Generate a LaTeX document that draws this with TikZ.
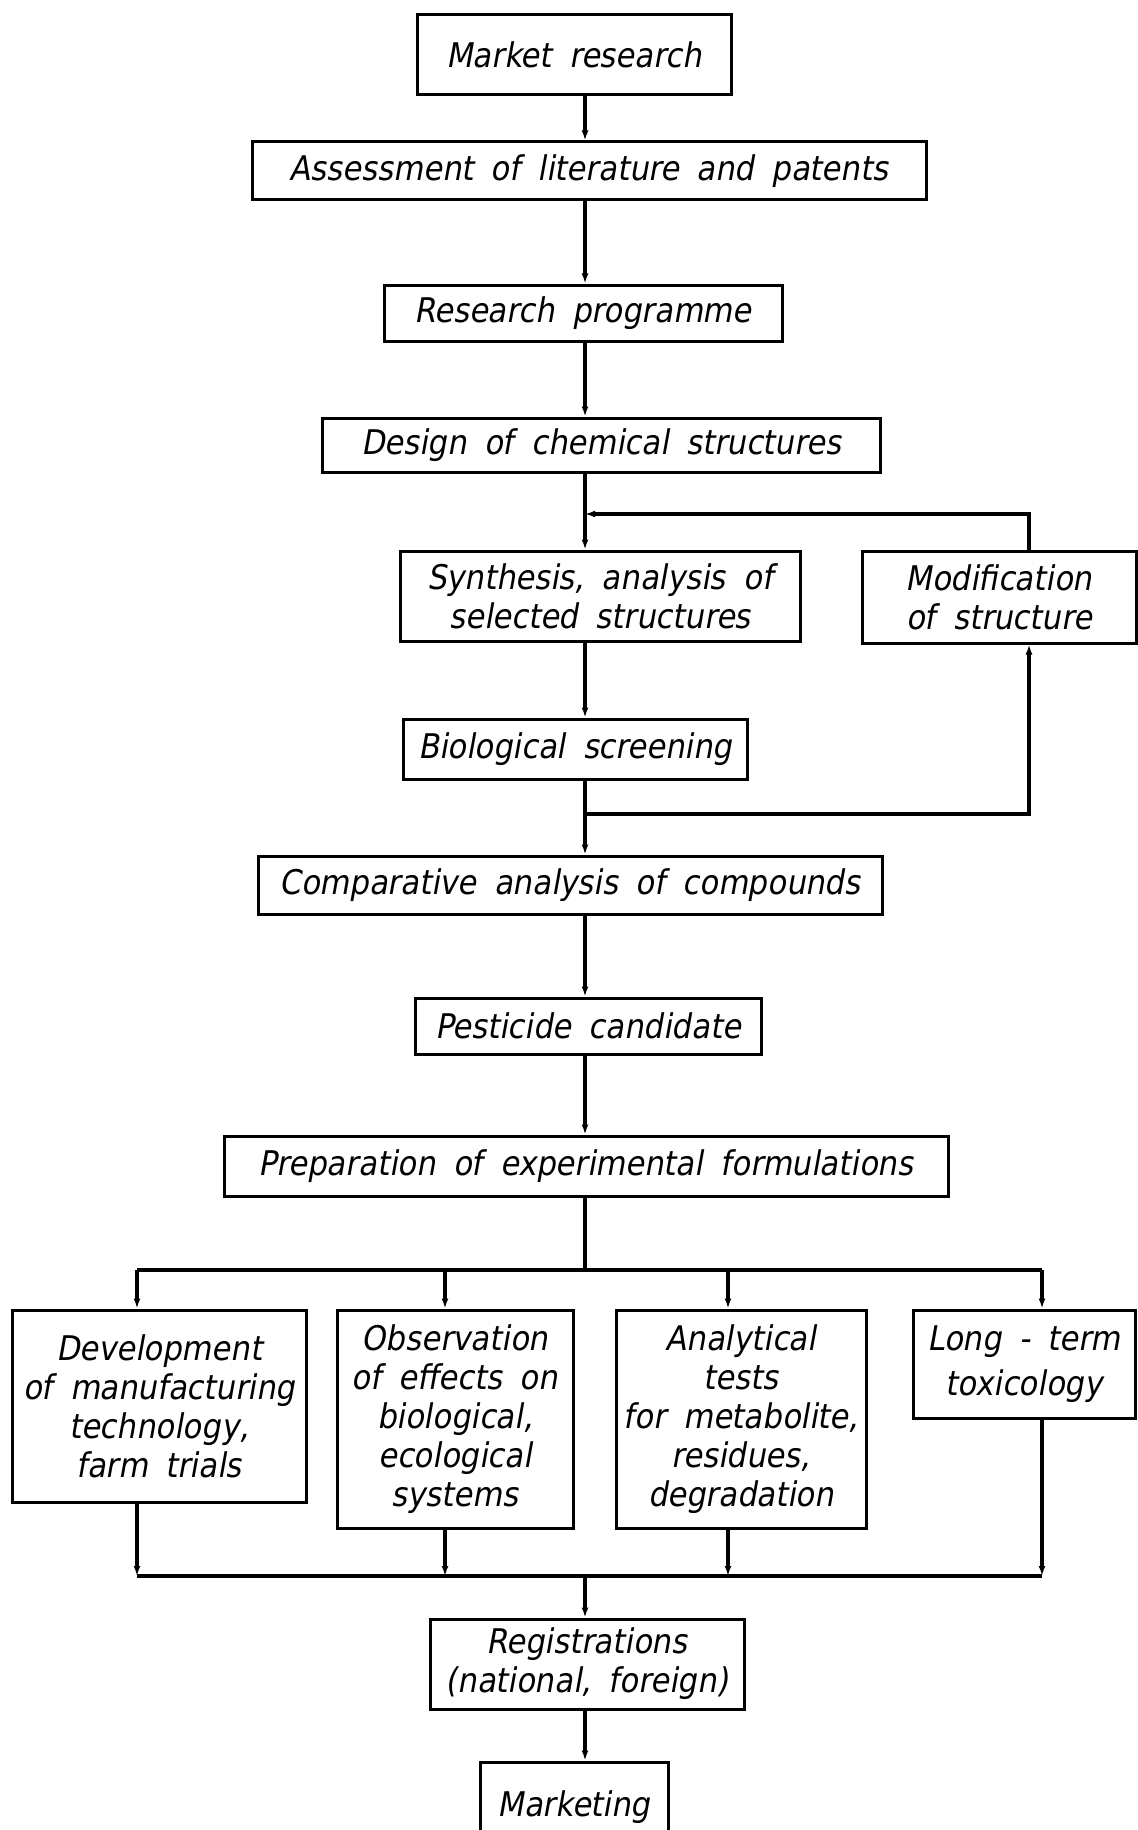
\documentclass[tikz,border=0pt]{standalone}
\usepackage{fontspec}
\setmainfont{DejaVu Sans}[FakeSlant=0.18,FakeStretch=0.9,WordSpace=1.8]
\usepackage{tikz}
\usetikzlibrary{arrows.meta,positioning}

\begin{document}
\begin{tikzpicture}[x=0.5pt,y=-0.5pt,>={Latex[length=5pt,width=3.5pt]},
				line width=1.7pt,
				box/.style={draw,line width=1.5pt,inner sep=1pt,align=center,
					font=\fontsize{17}{19.5}\selectfont}]
				\useasboundingbox (0,0) rectangle (1138,1830);
				% main column
				\node[box,minimum width=157pt,minimum height=40pt] (m_0) at (574,55) {Market research};
				\node[box,minimum width=337pt,minimum height=29pt] (m_1) at (589,171) {Assessment of literature and patents};
				\node[box,minimum width=199pt,minimum height=28pt] (m_2) at (583,313) {Research programme};
				\node[box,minimum width=279pt,minimum height=27pt] (m_3) at (601,445) {Design of chemical structures};
				\node[box,minimum width=200pt,minimum height=45pt] (m_4) at (600,596) {Synthesis, analysis of\\selected structures};
				\node[box,minimum width=137pt,minimum height=46pt] (m_mod) at (999,597) {Modification\\of structure};
				\node[box,minimum width=172pt,minimum height=30pt] (m_5) at (575,749) {Biological screening};
				\node[box,minimum width=312pt,minimum height=29pt] (m_6) at (570,885) {Comparative analysis of compounds};
				\node[box,minimum width=173pt,minimum height=28pt] (m_7) at (588,1026) {Pesticide candidate};
				\node[box,minimum width=362pt,minimum height=30pt] (m_8) at (586,1166) {Preparation of experimental formulations};
				% four parallel tasks
				\node[box,minimum width=147pt,minimum height=96pt] (t_1) at (159,1406) {Development\\of manufacturing\\technology,\\farm trials};
				\node[box,minimum width=118pt,minimum height=109pt] (t_2) at (455,1419) {Observation\\of effects on\\biological,\\ecological\\systems};
				\node[box,minimum width=125pt,minimum height=109pt] (t_3) at (741,1419) {Analytical\\tests\\for metabolite,\\residues,\\degradation};
				\node[box,minimum width=111pt,minimum height=54pt] (t_4) at (1024,1364) {Long - term\\[3pt]toxicology};
				\node[box,minimum width=157pt,minimum height=45pt] (m_9) at (587,1664) {Registrations\\(national, foreign)};
				\node[box,minimum width=94pt,minimum height=45pt] (m_10) at (574,1807) {Marketing};
				% junctions
				\coordinate (sp) at (585,0);
				\coordinate (j_top) at (585,514);
				\coordinate (j_rt) at (1029,514);
				\coordinate (j_bot) at (585,814);
				\coordinate (j_rb) at (1029,814);
				\coordinate (f_0) at (585,1270);
				\coordinate (g_0) at (585,1576);
				\foreach \n/\x in {1/137,2/445,3/728,4/1042} {
					\coordinate (f_\n) at (\x,1270);
					\coordinate (g_\n) at (\x,1576);
				}
				% connectors
				\draw[->] (m_0.south -| sp) -- (m_1.north -| sp);
				\draw[->] (m_1.south -| sp) -- (m_2.north -| sp);
				\draw[->] (m_2.south -| sp) -- (m_3.north -| sp);
				\draw[->] (m_3.south -| sp) -- (m_4.north -| sp);
				\draw[->] (m_4.south -| sp) -- (m_5.north -| sp);
				\draw[->] (m_5.south -| sp) -- (m_6.north -| sp);
				\draw[->] (m_6.south -| sp) -- (m_7.north -| sp);
				\draw[->] (m_7.south -| sp) -- (m_8.north -| sp);
				\draw (m_8.south -| sp) -- (f_0);
				\draw[->] (m_9.south -| sp) -- (m_10.north -| sp);
				% loop through modification
				\draw[->] (j_bot) -- (j_rb) -- (m_mod.south -| j_rb);
				\draw[->] (m_mod.north -| j_rt) -- (j_rt) -- (j_top);
				% fan out and in
				\draw (f_1) -- (f_4);
				\draw (g_1) -- (g_4);
				\foreach \n in {1,2,3,4} {
					\draw[->] (f_\n) -- (t_\n.north -| f_\n);
					\draw[->] (t_\n.south -| g_\n) -- (g_\n);
				}
				\draw[->] (g_0) -- (m_9.north -| sp);
			\end{tikzpicture}
\end{document}
